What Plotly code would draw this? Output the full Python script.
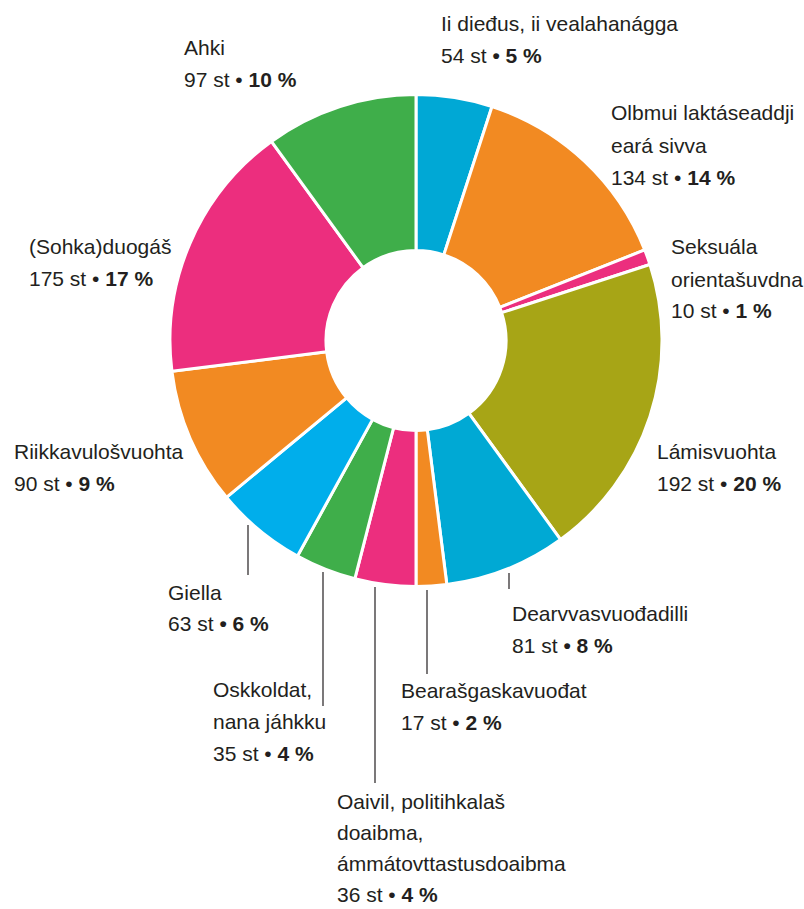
import plotly.graph_objects as go

W, H = 804, 909

# ---- data ----
categories = [
    "Ii dieđus, ii vealahanágga",
    "Olbmui laktáseaddji eará sivva",
    "Seksuála orientašuvdna",
    "Lámisvuohta",
    "Dearvvasvuođadilli",
    "Bearašgaskavuođat",
    "Oaivil, politihkalaš doaibma, ámmátovttastusdoaibma",
    "Oskkoldat, nana jáhkku",
    "Giella",
    "Riikkavulošvuohta",
    "(Sohka)duogáš",
    "Ahki",
]
label_lines = [
    ["Ii dieđus, ii vealahanágga"],
    ["Olbmui laktáseaddji", "eará sivva"],
    ["Seksuála", "orientašuvdna"],
    ["Lámisvuohta"],
    ["Dearvvasvuođadilli"],
    ["Bearašgaskavuođat"],
    ["Oaivil, politihkalaš", "doaibma,", "ámmátovttastusdoaibma"],
    ["Oskkoldat,", "nana jáhkku"],
    ["Giella"],
    ["Riikkavulošvuohta"],
    ["(Sohka)duogáš"],
    ["Ahki"],
]
counts = [54, 134, 10, 192, 81, 17, 36, 35, 63, 90, 175, 97]
percents = [5, 14, 1, 20, 8, 2, 4, 4, 6, 9, 17, 10]

colors = ["#00A8D5", "#F28A22", "#EC2E7E", "#A7A516", "#00A9D4", "#F28A22",
          "#EC2E7E", "#3FAE4A", "#00AEEB", "#F28A22", "#EC2E7E", "#3FAE4A"]

# ---- layout (pixel positions of label blocks) ----
# (left x, center y of first line, line step)
label_pos = [(439, 23, 32), (609, 113, 32), (669, 247, 32), (655, 451, 32), (510, 613, 32),
             (399, 690, 32), (335, 801, 31.3), (211, 689, 32), (166, 592, 31), (12, 451, 32),
             (27, 247, 31), (182, 48, 32)]
bold_bullet = [True, False, False, False, True, False, False, False, True, False, False, False]
leaders = [(248, 525, 575), (323, 572, 706), (375, 587, 783), (427, 590, 674), (509, 573, 589)]

def px(x):
    return x / W

def py(y):
    return 1 - y / H

cx, cy, r = 416, 340.5, 246

fig = go.Figure(go.Pie(
    labels=categories,
    values=percents,
    customdata=counts,
    sort=False,
    direction="clockwise",
    rotation=0,
    hole=0.366,
    marker=dict(colors=colors, line=dict(color="white", width=3)),
    textinfo="none",
    hovertemplate="%{label}<br>%{customdata} st • %{value} %<extra></extra>",
    showlegend=False,
    domain=dict(x=[px(cx - r), px(cx + r)], y=[py(cy + r), py(cy - r)]),
))

annotations = []
font = dict(family="Liberation Sans, Arial, Helvetica, sans-serif", size=21, color="#231F20")
for i, lines in enumerate(label_lines):
    x0, y0, step = label_pos[i]
    if bold_bullet[i]:
        vt = f"{counts[i]} st <b>• {percents[i]} %</b>"
    else:
        vt = f"{counts[i]} st • <b>{percents[i]} %</b>"
    for j, t in enumerate(lines + [vt]):
        annotations.append(dict(
            x=px(x0), y=py(y0 + j * step), xref="paper", yref="paper",
            text=t, showarrow=False, xanchor="left", yanchor="middle",
            font=font, align="left",
        ))

shapes = []
for (lx, ly0, ly1) in leaders:
    shapes.append(dict(type="line", xref="paper", yref="paper",
                       x0=px(lx), x1=px(lx), y0=py(ly0), y1=py(ly1),
                       line=dict(color="#231F20", width=1.2)))

fig.update_layout(
    width=W, height=H,
    margin=dict(l=0, r=0, t=0, b=0),
    paper_bgcolor="white",
    plot_bgcolor="white",
    annotations=annotations,
    shapes=shapes,
)

fig.write_html("out.html")
